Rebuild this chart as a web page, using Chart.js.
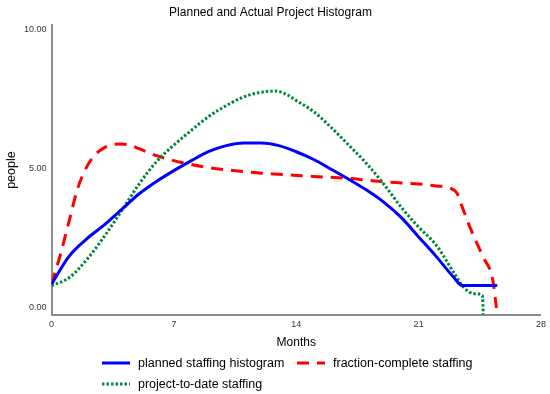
<!DOCTYPE html>
<html>
<head>
<meta charset="utf-8">
<script src="https://cdn.jsdelivr.net/npm/chart.js@4/dist/chart.umd.min.js"></script>
<style>
  body { margin: 0; background: #fff; font-family: "Liberation Sans", Arial, sans-serif; }
  #wrap { position: relative; width: 550px; height: 394px; }
  #legend { position: absolute; left: 0; top: 0; width: 550px; height: 394px; pointer-events: none; }
  .item { position: absolute; display: flex; align-items: center; font-size: 12.5px; color: #000; white-space: nowrap; }
  .item svg { margin-right: 8px; }
</style>
</head>
<body>
<div id="wrap">
  <canvas id="chart" width="550" height="394"></canvas>
  <div id="legend"></div>
</div>
<script>
// planned staffing histogram
const plannedMonths = [0, 1, 2, 3, 4, 5, 6, 7, 8, 9, 10, 11, 12, 13, 14, 15, 16, 17, 18, 19, 20, 21, 22, 23, 23.5, 25.5];
const plannedPeople = [0.85, 1.85, 2.47, 2.97, 3.53, 4.09, 4.54, 4.93, 5.29, 5.62, 5.83, 5.92, 5.92, 5.83, 5.61, 5.33, 4.98, 4.62, 4.24, 3.8, 3.25, 2.55, 1.85, 1.1, 0.8, 0.8];

// project-to-date staffing
const toDateMonths = [0, 1, 2, 3, 4, 5, 6, 7, 8, 9, 10, 11, 12, 12.8, 13.5, 14, 15, 16, 17, 18, 19, 20, 21, 22, 23, 23.6, 24.2, 24.65, 24.7];
const toDatePeople = [0.8, 1.08, 1.72, 2.55, 3.48, 4.44, 5.25, 5.85, 6.38, 6.88, 7.27, 7.58, 7.75, 7.79, 7.65, 7.45, 7.05, 6.48, 5.85, 5.2, 4.45, 3.62, 2.9, 2.26, 1.28, 0.72, 0.51, 0.44, -0.25];

// fraction-complete staffing
const fractionMonths = [0, 0.5, 1, 1.5, 2, 2.5, 3, 3.5, 4, 4.5, 5, 6, 7, 8, 9, 10, 11, 12, 13, 14, 15, 16, 17, 18, 19, 20, 21, 22, 22.8, 23.2, 23.4, 24, 24.67, 25.24, 25.45];
const fractionPeople = [0.85, 1.9, 3.1, 4.3, 5.05, 5.5, 5.75, 5.87, 5.89, 5.84, 5.72, 5.47, 5.29, 5.15, 5.04, 4.96, 4.9, 4.84, 4.8, 4.76, 4.72, 4.69, 4.65, 4.59, 4.53, 4.49, 4.45, 4.38, 4.3, 4.12, 3.78, 2.8, 1.85, 1.0, 0];

const xTicks = [0, 7, 14, 21, 28];
const yTicks = [0, 5, 10];

function pairs(xs, ys) {
  return xs.map((x, i) => ({ x: x, y: ys[i] }));
}

const chart = new Chart(document.getElementById('chart'), {
  type: 'line',
  data: {
    datasets: [
      {
        label: 'planned staffing histogram',
        data: pairs(plannedMonths, plannedPeople),
        borderColor: '#0000ff',
        borderWidth: 3,
        borderDash: []
      },
      {
        label: 'project-to-date staffing',
        data: pairs(toDateMonths, toDatePeople),
        borderColor: '#00883a',
        borderWidth: 3,
        borderDash: [2.5, 2]
      },
      {
        label: 'fraction-complete staffing',
        data: pairs(fractionMonths, fractionPeople),
        borderColor: '#ff0000',
        borderWidth: 3,
        borderDash: [12, 8]
      }
    ]
  },
  options: {
    responsive: false,
    animation: false,
    elements: { point: { radius: 0 }, line: { cubicInterpolationMode: 'monotone', fill: false } },
    layout: { padding: { left: 0, right: 9, top: 0, bottom: 40 } },
    plugins: {
      legend: { display: false },
      tooltip: { enabled: false },
      title: {
        display: true,
        text: 'Planned and Actual Project Histogram',
        color: '#000',
        font: { family: '"Liberation Sans", Arial', size: 12, weight: 'normal' },
        padding: { top: 5, bottom: 6 }
      }
    },
    scales: {
      x: {
        type: 'linear',
        min: 0,
        max: 28,
        afterBuildTicks: scale => { scale.ticks = xTicks.map(v => ({ value: v })); },
        grid: { display: false, drawTicks: false },
        border: { display: true, color: '#8c8c8c', width: 2 },
        ticks: { color: '#333', padding: 4, maxRotation: 0, font: { family: '"Liberation Sans", Arial', size: 9 } },
        title: {
          display: true,
          text: 'Months',
          color: '#000',
          font: { family: '"Liberation Sans", Arial', size: 12 },
          padding: { top: 2, bottom: 4 }
        }
      },
      y: {
        min: -0.25,
        max: 10.15,
        afterBuildTicks: scale => { scale.ticks = yTicks.map(v => ({ value: v })); },
        grid: { display: false, drawTicks: false },
        border: { display: true, color: '#8c8c8c', width: 2 },
        ticks: {
          color: '#333',
          padding: 5,
          font: { family: '"Liberation Sans", Arial', size: 9 },
          callback: v => Number(v).toFixed(2)
        },
        title: {
          display: true,
          text: 'people',
          color: '#000',
          font: { family: '"Liberation Sans", Arial', size: 12.5 },
          padding: { top: 4, bottom: 0 }
        }
      }
    }
  }
});

// legend in two columns, filled column by column
const legendEl = document.getElementById('legend');
const colLeft = [102, 297];
const rowTop = [363, 384];
chart.data.datasets.forEach((ds, i) => {
  const col = Math.floor(i / 2);
  const row = i % 2;
  const item = document.createElement('div');
  item.className = 'item';
  item.style.left = colLeft[col] + 'px';
  item.style.top = (rowTop[row] - 8) + 'px';
  item.style.height = '16px';
  const dash = ds.borderDash.length ? ds.borderDash.join(' ') : 'none';
  item.innerHTML =
    '<svg width="28" height="4"><line x1="0" y1="2" x2="28" y2="2" stroke="' + ds.borderColor +
    '" stroke-width="3" stroke-dasharray="' + dash + '"/></svg><span>' + ds.label + '</span>';
  legendEl.appendChild(item);
});
</script>
</body>
</html>
